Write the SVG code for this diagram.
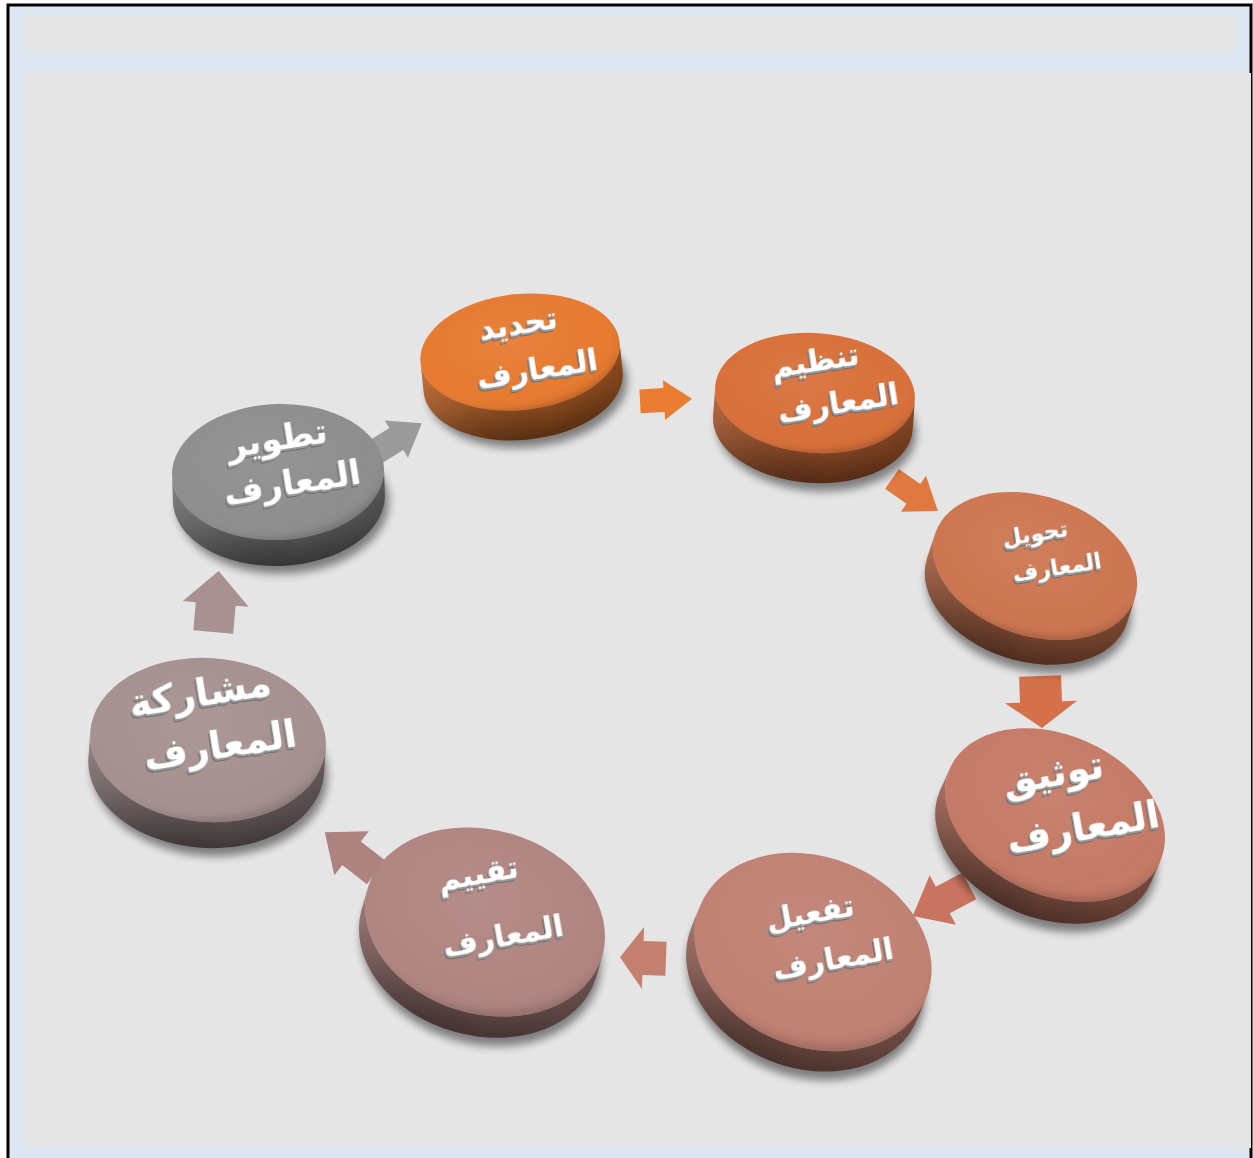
<svg xmlns="http://www.w3.org/2000/svg" width="1253" height="1158" viewBox="0 0 1253 1158">
<style>
.lbl{font-family:"DejaVu Sans","Noto Sans",sans-serif;font-weight:bold;fill:#ffffff;text-anchor:middle;filter:url(#emb)}
.side-sh{fill:url(#sideShade)}
.top-sh{fill:url(#topShade)}
.drop{fill:#000;opacity:0.45;filter:url(#blur)}
</style>
<defs>
<linearGradient id="sideShade" x1="0" y1="0" x2="0" y2="1">
<stop offset="0" stop-color="#000" stop-opacity="0.12"/>
<stop offset="0.55" stop-color="#000" stop-opacity="0.35"/>
<stop offset="1" stop-color="#000" stop-opacity="0.62"/>
</linearGradient>
<linearGradient id="sideShadeH" x1="0" y1="0" x2="1" y2="0">
<stop offset="0" stop-color="#fff" stop-opacity="0.08"/>
<stop offset="0.6" stop-color="#000" stop-opacity="0"/>
<stop offset="1" stop-color="#000" stop-opacity="0.25"/>
</linearGradient>
<radialGradient id="topShade" cx="0.45" cy="0.4" r="0.6">
<stop offset="0" stop-color="#fff" stop-opacity="0.06"/>
<stop offset="0.8" stop-color="#fff" stop-opacity="0"/>
<stop offset="0.93" stop-color="#000" stop-opacity="0.03"/>
<stop offset="1" stop-color="#000" stop-opacity="0.14"/>
</radialGradient>
<filter id="blur" x="-20%" y="-20%" width="140%" height="140%"><feGaussianBlur stdDeviation="4"/></filter>
<filter id="emb" x="-20%" y="-30%" width="140%" height="160%">
<feOffset in="SourceAlpha" dx="-2.5" dy="3" result="o2"/>
<feFlood flood-color="#6a6a6a"/>
<feComposite in2="o2" operator="in" result="s2"/>
<feOffset in="SourceAlpha" dx="-1.2" dy="1.5" result="o1"/>
<feFlood flood-color="#9a9a9a"/>
<feComposite in2="o1" operator="in" result="s1"/>
<feMerge><feMergeNode in="s2"/><feMergeNode in="s1"/><feMergeNode in="SourceGraphic"/></feMerge>
</filter>
</defs>

<g id="frame">
<rect x="8" y="5" width="1243" height="1160" fill="#dde8f3" stroke="#000" stroke-width="3"/>
<rect x="24" y="15" width="1211" height="37" fill="#e5e5e5"/>
<rect x="24" y="73" width="1227" height="1075" fill="#e5e5e5"/>
</g>

<g id="connectors">
<polygon transform="translate(666,400) rotate(-3)" points="-26,-12 -2,-12 -2,-20 26,0 -2,20 -2,12 -26,12" fill="#e97c30"/>
<polygon transform="translate(915,495) rotate(35)" points="-28,-12 -2,-12 -2,-22 28,0 -2,22 -2,12 -28,12" fill="#e0793f"/>
<polygon transform="translate(1041,702) rotate(88)" points="-26,-21 0,-21 0,-36 26,0 0,36 0,21 -26,21" fill="#d4714a"/>
<polygon transform="translate(941,901) rotate(152)" points="-32,-15 -2,-15 -2,-28 32,0 -2,28 -2,15 -32,15" fill="#c87460"/>
<polygon transform="translate(643,958) rotate(182)" points="-23,-17 0,-17 0,-31 23,0 0,31 0,17 -23,17" fill="#c4806f"/>
<polygon transform="translate(350,852) rotate(-142)" points="-33,-15 -2,-15 -2,-28 32,0 -2,28 -2,15 -33,15" fill="#ad837f"/>
<polygon transform="translate(216,601) rotate(-85)" points="-31,-20 -3,-20 -3,-33 30,0 -3,33 -3,20 -31,20" fill="#a89190"/>
<polygon transform="translate(398,438) rotate(-32)" points="-28,-13 -2,-13 -2,-22 28,0 -2,22 -2,13 -28,13" fill="#9b9b9b"/>
</g>

<!-- Disc 1 -->
<g id="n1">
<g transform="translate(520,352) rotate(-6)">
<ellipse class="drop" cx="4" cy="36" rx="100" ry="60"/>
<path d="M-100,0 A100,58 0 0 0 100,0 L100,30 A100,58 0 0 1 -100,30 Z" fill="#e67a30"/>
<path class="side-sh" d="M-100,0 A100,58 0 0 0 100,0 L100,30 A100,58 0 0 1 -100,30 Z"/>
<path fill="url(#sideShadeH)" d="M-100,0 A100,58 0 0 0 100,0 L100,30 A100,58 0 0 1 -100,30 Z"/>
<ellipse rx="100" ry="58" fill="#e67a30"/>
<ellipse class="top-sh" rx="100" ry="58"/>
</g>
<text class="lbl" font-size="30" transform="rotate(-9,518,323)" x="518" y="334">تحديد</text>
<text class="lbl" font-size="30" transform="rotate(-9,537,368)" x="537" y="379">المعارف</text>
</g>

<!-- Disc 2 -->
<g id="n2">
<g transform="translate(815,393) rotate(4)">
<ellipse class="drop" cx="4" cy="36" rx="100" ry="62"/>
<path d="M-100,0 A100,60 0 0 0 100,0 L100,30 A100,60 0 0 1 -100,30 Z" fill="#d8703a"/>
<path class="side-sh" d="M-100,0 A100,60 0 0 0 100,0 L100,30 A100,60 0 0 1 -100,30 Z"/>
<path fill="url(#sideShadeH)" d="M-100,0 A100,60 0 0 0 100,0 L100,30 A100,60 0 0 1 -100,30 Z"/>
<ellipse rx="100" ry="60" fill="#d8703a"/>
<ellipse class="top-sh" rx="100" ry="60"/>
</g>
<text class="lbl" font-size="30" transform="rotate(-9,815,360)" x="815" y="371">تنظيم</text>
<text class="lbl" font-size="30" transform="rotate(-9,838,402)" x="838" y="413">المعارف</text>
</g>

<!-- Disc 3 -->
<g id="n3">
<g transform="translate(1035,566) rotate(18)">
<ellipse class="drop" cx="4" cy="32" rx="105" ry="72"/>
<path d="M-105,0 A105,70 0 0 0 105,0 L105,26 A105,70 0 0 1 -105,26 Z" fill="#cd7651"/>
<path class="side-sh" d="M-105,0 A105,70 0 0 0 105,0 L105,26 A105,70 0 0 1 -105,26 Z"/>
<path fill="url(#sideShadeH)" d="M-105,0 A105,70 0 0 0 105,0 L105,26 A105,70 0 0 1 -105,26 Z"/>
<ellipse rx="105" ry="70" fill="#cd7651"/>
<ellipse class="top-sh" rx="105" ry="70"/>
</g>
<text class="lbl" font-size="22" transform="rotate(-9,1035,533)" x="1035" y="541">تحويل</text>
<text class="lbl" font-size="22" transform="rotate(-9,1057,567)" x="1057" y="575">المعارف</text>
</g>

<!-- Disc 4 -->
<g id="n4">
<g transform="translate(1055,815) rotate(24)">
<ellipse class="drop" cx="4" cy="30" rx="115" ry="82"/>
<path d="M-115,0 A115,80 0 0 0 115,0 L115,24 A115,80 0 0 1 -115,24 Z" fill="#c47a66"/>
<path class="side-sh" d="M-115,0 A115,80 0 0 0 115,0 L115,24 A115,80 0 0 1 -115,24 Z"/>
<path fill="url(#sideShadeH)" d="M-115,0 A115,80 0 0 0 115,0 L115,24 A115,80 0 0 1 -115,24 Z"/>
<ellipse rx="115" ry="80" fill="#c47a66"/>
<ellipse class="top-sh" rx="115" ry="80"/>
</g>
<text class="lbl" font-size="38" transform="rotate(-10,1053,773)" x="1053" y="786">توثيق</text>
<text class="lbl" font-size="38" transform="rotate(-10,1083,827)" x="1083" y="840">المعارف</text>
</g>

<!-- Disc 5 -->
<g id="n5">
<g transform="translate(813,952) rotate(22)">
<ellipse class="drop" cx="4" cy="28" rx="122" ry="97"/>
<path d="M-122,0 A122,95 0 0 0 122,0 L122,22 A122,95 0 0 1 -122,22 Z" fill="#bf8173"/>
<path class="side-sh" d="M-122,0 A122,95 0 0 0 122,0 L122,22 A122,95 0 0 1 -122,22 Z"/>
<path fill="url(#sideShadeH)" d="M-122,0 A122,95 0 0 0 122,0 L122,22 A122,95 0 0 1 -122,22 Z"/>
<ellipse rx="122" ry="95" fill="#bf8173"/>
<ellipse class="top-sh" rx="122" ry="95"/>
</g>
<text class="lbl" font-size="30" transform="rotate(-10,810,912)" x="810" y="923">تفعيل</text>
<text class="lbl" font-size="30" transform="rotate(-10,833,958)" x="833" y="969">المعارف</text>
</g>

<!-- Disc 6 -->
<g id="n6">
<g transform="translate(485,922) rotate(16)">
<ellipse class="drop" cx="4" cy="28" rx="122" ry="94"/>
<path d="M-122,0 A122,92 0 0 0 122,0 L122,22 A122,92 0 0 1 -122,22 Z" fill="#b08581"/>
<path class="side-sh" d="M-122,0 A122,92 0 0 0 122,0 L122,22 A122,92 0 0 1 -122,22 Z"/>
<path fill="url(#sideShadeH)" d="M-122,0 A122,92 0 0 0 122,0 L122,22 A122,92 0 0 1 -122,22 Z"/>
<ellipse rx="122" ry="92" fill="#b08581"/>
<ellipse class="top-sh" rx="122" ry="92"/>
</g>
<text class="lbl" font-size="30" transform="rotate(-10,478,873)" x="478" y="884">تقييم</text>
<text class="lbl" font-size="30" transform="rotate(-10,503,935)" x="503" y="946">المعارف</text>
</g>

<!-- Disc 7 -->
<g id="n7">
<g transform="translate(208,740) rotate(4)">
<ellipse class="drop" cx="4" cy="32" rx="118" ry="84"/>
<path d="M-118,0 A118,82 0 0 0 118,0 L118,26 A118,82 0 0 1 -118,26 Z" fill="#a59190"/>
<path class="side-sh" d="M-118,0 A118,82 0 0 0 118,0 L118,26 A118,82 0 0 1 -118,26 Z"/>
<path fill="url(#sideShadeH)" d="M-118,0 A118,82 0 0 0 118,0 L118,26 A118,82 0 0 1 -118,26 Z"/>
<ellipse rx="118" ry="82" fill="#a59190"/>
<ellipse class="top-sh" rx="118" ry="82"/>
</g>
<text class="lbl" font-size="38" transform="rotate(-9,200,693)" x="200" y="706">مشاركة</text>
<text class="lbl" font-size="38" transform="rotate(-9,220,745)" x="220" y="758">المعارف</text>
</g>

<!-- Disc 8 -->
<g id="n8">
<g transform="translate(278,472) rotate(-2)">
<ellipse class="drop" cx="4" cy="32" rx="106" ry="70"/>
<path d="M-106,0 A106,68 0 0 0 106,0 L106,26 A106,68 0 0 1 -106,26 Z" fill="#8e8e8e"/>
<path class="side-sh" d="M-106,0 A106,68 0 0 0 106,0 L106,26 A106,68 0 0 1 -106,26 Z"/>
<path fill="url(#sideShadeH)" d="M-106,0 A106,68 0 0 0 106,0 L106,26 A106,68 0 0 1 -106,26 Z"/>
<ellipse rx="106" ry="68" fill="#8e8e8e"/>
<ellipse class="top-sh" rx="106" ry="68"/>
</g>
<text class="lbl" font-size="34" transform="rotate(-9,277,438)" x="277" y="450">تطوير</text>
<text class="lbl" font-size="34" transform="rotate(-9,292,482)" x="292" y="494">المعارف</text>
</g>
</svg>
